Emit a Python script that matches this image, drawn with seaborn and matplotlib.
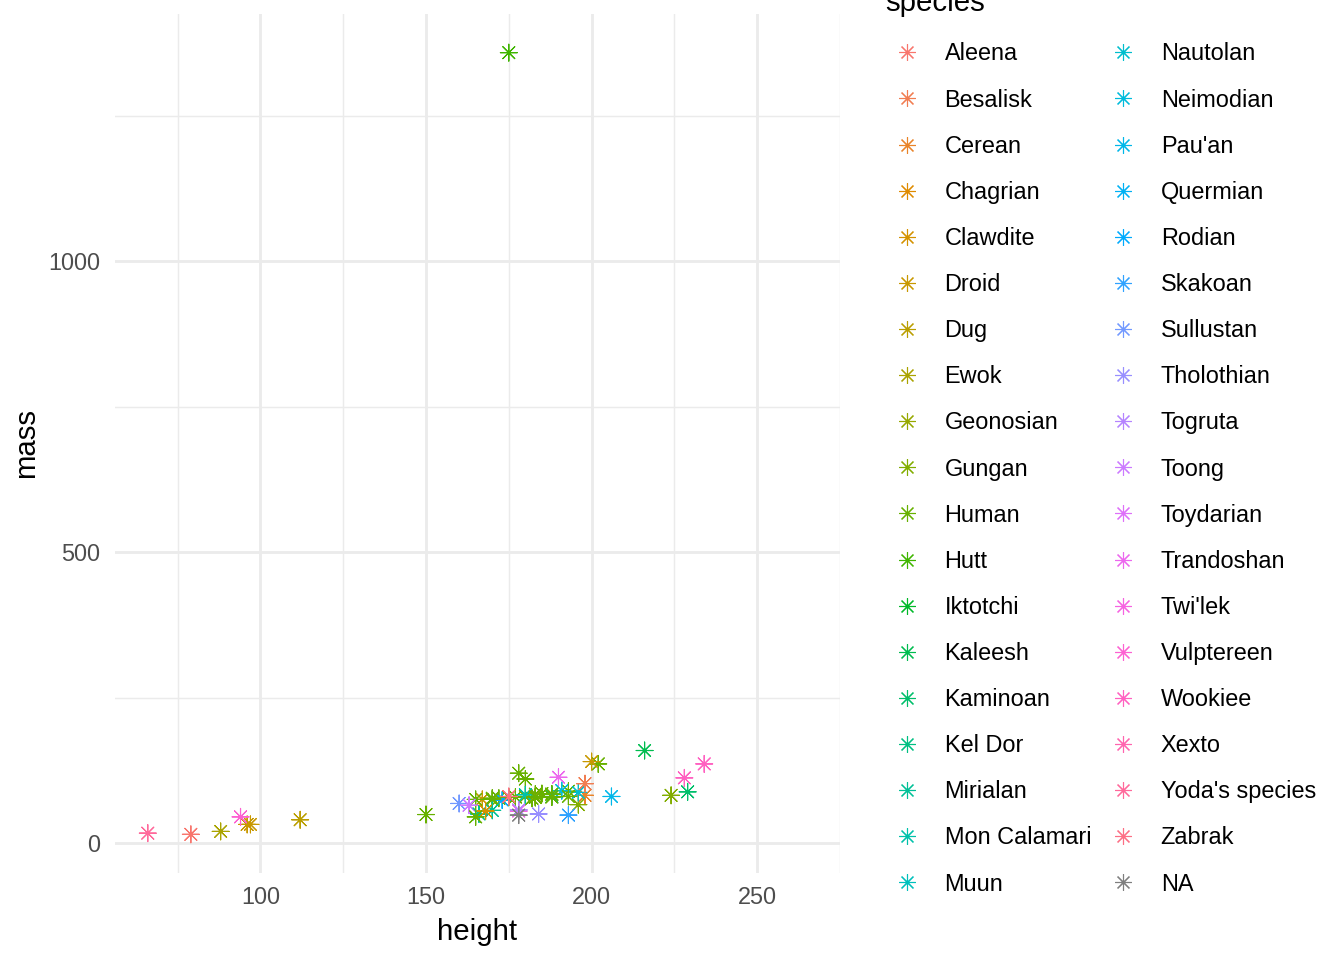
import numpy as np
import pandas as pd
import matplotlib
matplotlib.use("Agg")
import matplotlib.pyplot as plt
from matplotlib.lines import Line2D
import seaborn as sns

# ---- data (starwars: height, mass, species) ----
height = [172, 167, 96, 202, 150, 178, 165, 97, 183, 182, 188, 180, 228, 180, 173,
          175, 170, 180, 66, 170, 183, 200, 190, 177, 175, 180, 150, 88, 160, 193,
          191, 170, 196, 224, 206, 183, 137, 112, 183, 163, 175, 180, 178, 94, 122,
          163, 188, 198, 196, 171, 184, 188, 264, 188, 196, 185, 157, 183, 183, 170,
          166, 165, 193, 191, 183, 168, 198, 229, 213, 167, 96, 193, 191, 178, 216,
          234, 188, 178, 206, 165, 79]
mass = [77, 75, 32, 136, 49, 120, 75, 32, 84, 77, 84, np.nan, 112, 80, 74,
        1358, 77, 110, 17, 75, 78.2, 140, 113, 79, 79, 83, np.nan, 20, 68, 89,
        90, np.nan, 66, 82, np.nan, np.nan, np.nan, 40, np.nan, np.nan, 80, np.nan, 55, 45, np.nan,
        65, 84, 82, 87, np.nan, 50, np.nan, np.nan, 80, np.nan, 85, np.nan, np.nan, 80, 56.2,
        50, np.nan, 80, np.nan, 79, 55, 102, 88, np.nan, np.nan, np.nan, 48, np.nan, 57, 159,
        136, 79, 48, 80, 45, 15]
species = ["Human", "Droid", "Droid", "Human", "Human", "Human", "Human", "Droid", "Human", "Human",
           "Human", "Human", "Wookiee", "Human", "Rodian", "Hutt", "Human", "Human", "Yoda's species", "Human",
           "Human", "Droid", "Trandoshan", "Human", "Human", "Mon Calamari", "Human", "Ewok", "Sullustan", "Human",
           "Neimodian", "Human", "Gungan", "Gungan", "Gungan", "NA", "Toydarian", "Dug", "NA", "Human",
           "Zabrak", "Twi'lek", "Twi'lek", "Vulptereen", "Xexto", "Toong", "Human", "Cerean", "Nautolan", "Zabrak",
           "Tholothian", "Iktotchi", "Quermian", "Kel Dor", "Chagrian", "Human", "Human", "Human", "Geonosian", "Mirialan",
           "Mirialan", "Human", "Human", "Human", "Human", "Clawdite", "Besalisk", "Kaminoan", "Kaminoan", "Human",
           "Droid", "Skakoan", "Muun", "Togruta", "Kaleesh", "Wookiee", "Human", "NA", "Pau'an", "Human",
           "Aleena"]

df = pd.DataFrame({"height": height, "mass": mass, "species": species})

levels = sorted(s for s in set(species) if s != "NA") + ["NA"]


def hcl(h, c=100.0, l=65.0):
    hr = np.deg2rad(h)
    u, v = c * np.cos(hr), c * np.sin(hr)
    Xn, Yn, Zn = 95.047, 100.0, 108.883
    Y = Yn * ((l + 16) / 116) ** 3
    den = Xn + 15 * Yn + 3 * Zn
    un, vn = 4 * Xn / den, 9 * Yn / den
    up, vp = u / (13 * l) + un, v / (13 * l) + vn
    X = 9 * Y * up / (4 * vp)
    Z = -X / 3 - 5 * Y + 3 * Y / vp
    X, Y, Z = X / 100, Y / 100, Z / 100
    rgb = np.array([3.240479 * X - 1.537150 * Y - 0.498535 * Z,
                    -0.969256 * X + 1.875992 * Y + 0.041556 * Z,
                    0.055648 * X - 0.204043 * Y + 1.057311 * Z])
    rgb = np.where(rgb <= 0.0031308, 12.92 * rgb, 1.055 * np.abs(rgb) ** (1 / 2.4) - 0.055)
    return tuple(np.clip(rgb, 0, 1))


n = len(levels) - 1
hues = np.linspace(15, 375, n + 1)[:n]
palette = {lev: hcl(h) for lev, h in zip(levels[:-1], hues)}
palette["NA"] = (0.498, 0.498, 0.498)

# ---- figure ----
W, H, DPI = 1344, 960, 192
fig = plt.figure(figsize=(W / DPI, H / DPI), dpi=DPI)
plt.rcParams["font.family"] = ["Liberation Sans", "DejaVu Sans"]
ax = fig.add_axes([115 / W, 1 - 873.4 / H, (840 - 115) / W, (873.4 - 13.6) / H])

marker = (8, 2, 0)
sns.scatterplot(data=df, x="height", y="mass", hue="species", hue_order=levels,
                palette=palette, marker=marker, s=40, linewidth=0.42, ax=ax, legend=False)

# limits with 5% expansion like ggplot
hmin, hmax = np.nanmin(height), np.nanmax(height)
mmin, mmax = np.nanmin(mass), np.nanmax(mass)
ax.set_xlim(hmin - 0.05 * (hmax - hmin), hmax + 0.05 * (hmax - hmin))
ax.set_ylim(mmin - 0.05 * (mmax - mmin), mmax + 0.05 * (mmax - mmin))

ax.set_xticks([100, 150, 200, 250])
ax.set_xticks([75, 125, 175, 225, 275], minor=True)
ax.set_yticks([0, 500, 1000])
ax.set_yticks([250, 750, 1250], minor=True)
ax.grid(which="major", color="#EBEBEB", linewidth=1.07)
ax.grid(which="minor", color="#EBEBEB", linewidth=0.53)
ax.set_axisbelow(True)
for sp in ax.spines.values():
    sp.set_visible(False)
ax.tick_params(which="both", length=0)
ax.tick_params(axis="y", pad=5.6, labelsize=8.8, labelcolor="#4D4D4D")
ax.tick_params(axis="x", pad=4.6, labelsize=8.8, labelcolor="#4D4D4D")

ax.set_xlabel("height", fontsize=11, color="black")
ax.set_ylabel("mass", fontsize=11, color="black")
ax.xaxis.set_label_coords(0.5, (873.4 - 918) / (873.4 - 13.6))
ax.yaxis.set_label_coords((40 - 115) / (840 - 115), 0.5)
ax.xaxis.label.set_va("top")
ax.yaxis.label.set_va("bottom")

fig.text(885 / W, 1 - 11 / H, "species", fontsize=11, ha="left", va="baseline")

handles = [Line2D([], [], ls="", marker=marker, color=palette[l], markersize=6.2,
                  markeredgewidth=0.42) for l in levels]
leg = fig.legend(handles, levels, loc="upper left", bbox_to_anchor=(884 / W, 1 - 42.5 / H),
                 ncol=2, frameon=False, fontsize=8.8,
                 borderpad=0, borderaxespad=0, handlelength=1.96,
                 handletextpad=0.62, columnspacing=0.38, labelspacing=0.985)

fig.savefig("out.png", dpi=DPI)
